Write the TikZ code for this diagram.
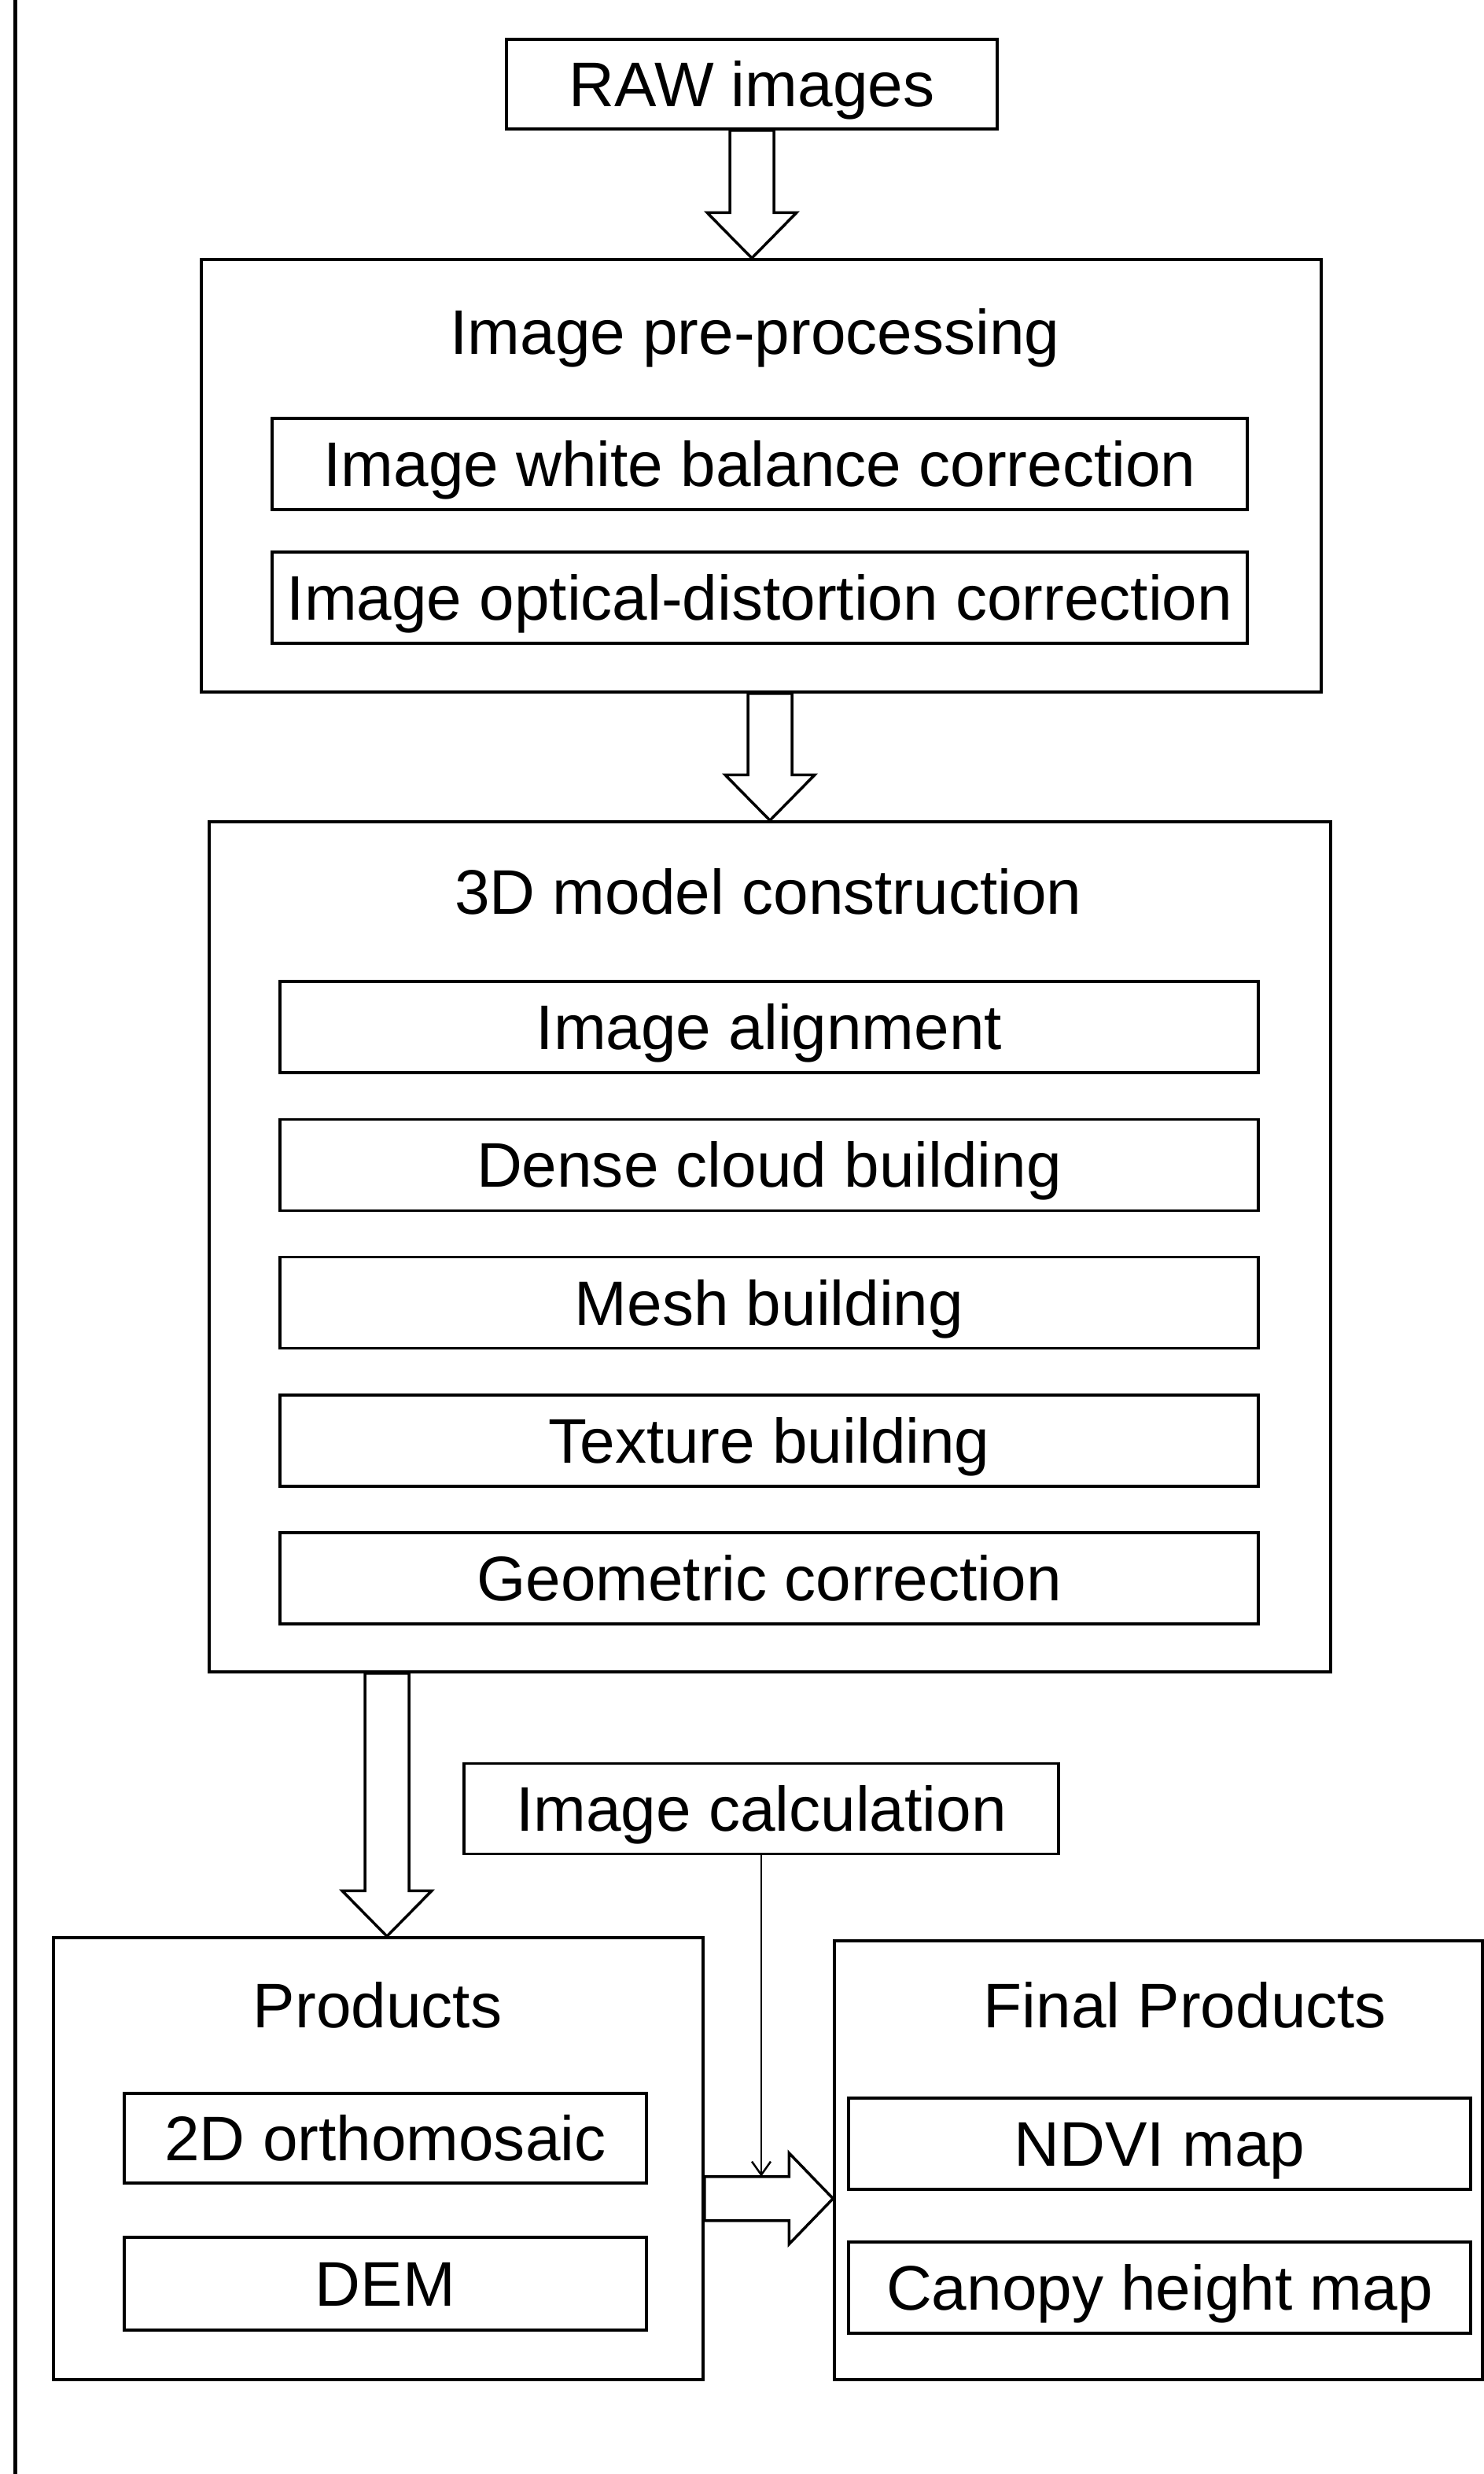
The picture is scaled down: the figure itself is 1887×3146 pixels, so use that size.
\documentclass[tikz,border=0pt]{standalone}
\usepackage{fontspec}
\setmainfont{Liberation Sans}
\usetikzlibrary{arrows.meta,calc}
\newcommand{\fatdown}[2]{\draw[blk] let \p1=#1, \p2=#2 in (\x1-2.8mm,\y1) -- (\x1-2.8mm,\y2+5.8mm) -- (\x1-5.7mm,\y2+5.8mm) -- (\x1,\y2) -- (\x1+5.7mm,\y2+5.8mm) -- (\x1+2.8mm,\y2+5.8mm) -- (\x1+2.8mm,\y1) -- cycle;}
\newcommand{\fatright}[2]{\draw[blk] let \p1=#1, \p2=#2 in (\x1,\y1-2.8mm) -- (\x2-5.6mm,\y1-2.8mm) -- (\x2-5.6mm,\y1-5.8mm) -- (\x2,\y1) -- (\x2-5.6mm,\y1+5.8mm) -- (\x2-5.6mm,\y1+2.8mm) -- (\x1,\y1+2.8mm) -- cycle;}

\begin{document}
\begin{tikzpicture}[x=0.1mm,y=-0.1mm,
  box/.style={draw,line width=0.35mm,inner sep=0pt,text height=16.3pt,text depth=0pt,font=\fontsize{22.8}{27}\selectfont},
  ttl/.style={inner sep=0pt,text height=16.3pt,text depth=0pt,font=\fontsize{22.8}{27}\selectfont},
  blk/.style={draw,line width=0.35mm,fill=white}]
  \useasboundingbox (0,0) rectangle (1887,3146);
  \draw[line width=0.5mm] (19,0) -- (19,3146);
  \node[box,minimum width=62.4mm,minimum height=11.4mm] (raw) at (956,107) {RAW images};
  \node[box,minimum width=142.4mm,minimum height=55mm] (pre) at (968,605) {};
  \node[ttl] (pretitle) at (960,422) {Image pre-processing};
  \node[box,minimum width=124mm,minimum height=11.6mm] (wb) at (966,590) {Image white balance correction};
  \node[box,minimum width=124mm,minimum height=11.6mm] (od) at (966,760) {Image optical-distortion correction};
  \node[box,minimum width=142.6mm,minimum height=108.1mm] (model) at (979,1585.5) {};
  \node[ttl] (modeltitle) at (977,1134) {3D model construction};
  \foreach \i/\l in {0/Image alignment,1/Dense cloud building,2/Mesh building,3/Texture building,4/Geometric correction}
    \node[box,minimum width=124.4mm,minimum height=11.6mm] (m\i) at (978,{1306+175.25*\i}) {\l};
  \node[box,minimum width=75.6mm,minimum height=11.5mm] (calc) at (968,2300) {Image calculation};
  \node[box,minimum width=82.6mm,minimum height=56.2mm] (prod) at (481,2745) {};
  \node[ttl] (prodtitle) at (480,2550) {Products};
  \node[box,minimum width=66.4mm,minimum height=11.4mm] (ortho) at (490,2719) {2D orthomosaic};
  \node[box,minimum width=66.4mm,minimum height=11.8mm] (dem) at (490,2904) {DEM};
  \node[box,minimum width=82.4mm,minimum height=55.8mm] (final) at (1473,2747) {};
  \node[ttl] (finaltitle) at (1507,2550) {Final Products};
  \node[box,minimum width=79.1mm,minimum height=11.6mm] (ndvi) at (1474.5,2726) {NDVI map};
  \node[box,minimum width=79.1mm,minimum height=11.6mm] (canopy) at (1474.5,2909) {Canopy height map};
  \fatdown{(raw.south)}{(raw.south |- pre.north)}
  \fatdown{(pre.south -| model.north)}{(model.north)}
  \coordinate (a3) at ([xshift=1.1mm]prod.north);
  \fatdown{(a3 |- model.south)}{(a3)}
  \coordinate (mid) at ([yshift=23.2mm]prod.south east);
  \coordinate (midtop) at ([yshift=2.8mm]mid);
  \fatright{(mid)}{(mid -| final.west)}
  \draw[line width=0.25mm,-{Straight Barb[length=1.7mm,width=2.4mm]}] (calc.south) -- (midtop -| calc.south);
\end{tikzpicture}
\end{document}
